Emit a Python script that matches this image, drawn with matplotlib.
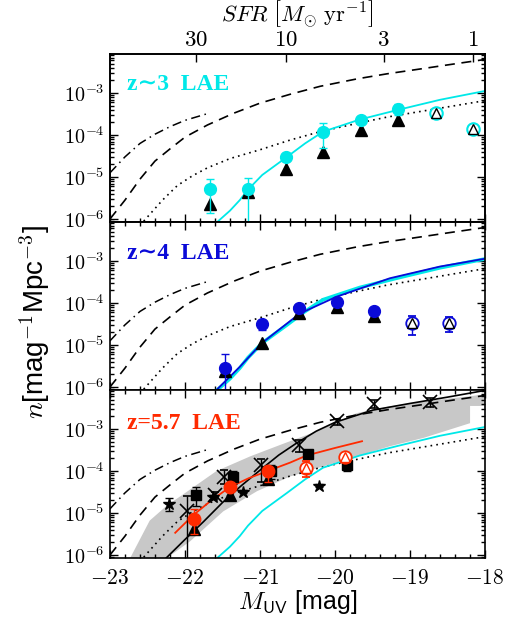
import numpy as np
import matplotlib
matplotlib.use("Agg")
import matplotlib.pyplot as plt
from matplotlib.ticker import FixedLocator, LogLocator, MultipleLocator, FuncFormatter, NullLocator, NullFormatter

plt.rcParams['mathtext.fontset'] = 'cm'

# ---- data (log10 n for densities, M_UV for magnitudes) ----
# reference curves, same in all three panels
dash_M = [-23.0, -22.8, -22.6, -22.4, -22.2, -22.0, -21.7, -21.35, -21.0, -20.6, -20.2, -19.7, -19.3, -18.8, -18.5, -18.0]
dash_n = [-6.0, -5.55, -5.05, -4.62, -4.33, -4.05, -3.76, -3.48, -3.24, -3.03, -2.84, -2.66, -2.54, -2.41, -2.33, -2.2]
dotdash_M = [-23.0, -22.8, -22.6, -22.4, -22.2, -22.0, -21.7]
dotdash_n = [-4.9, -4.52, -4.2, -3.98, -3.8, -3.65, -3.49]
dotted_M = [-22.55, -22.3, -22.1, -21.9, -21.7, -21.4, -21.0, -20.6, -20.2, -19.7, -19.3, -18.6, -18.0]
dotted_n = [-6.05, -5.55, -5.2, -4.97, -4.78, -4.56, -4.35, -4.12, -3.92, -3.72, -3.57, -3.36, -3.18]
cyan_M = [-21.57, -21.4, -21.27, -21.16, -20.97, -20.64, -20.4, -20.16, -19.67, -19.16, -18.6, -18.0]
cyan_n = [-6.07, -5.8, -5.55, -5.3, -4.95, -4.52, -4.2, -3.92, -3.63, -3.40, -3.16, -2.95]
blue_M = [-21.58, -21.27, -20.98, -20.47, -19.98, -19.27, -18.6, -18.02]
blue_n = [-6.07, -5.52, -4.96, -4.25, -3.85, -3.41, -3.13, -2.95]
black_M = [-22.25, -22.0, -21.75, -21.5, -21.25, -21.0, -20.75, -20.5, -20.25, -20.0, -19.5, -19.0, -18.5, -18.0]
black_n = [-6.07, -5.63, -5.2, -4.75, -4.35, -3.98, -3.62, -3.32, -3.05, -2.84, -2.55, -2.39, -2.24, -2.08]
red_M = [-22.13, -21.89, -21.65, -21.4, -21.15, -20.87, -20.6, -20.38, -20.0, -19.64]
red_n = [-5.47, -5.05, -4.7, -4.38, -4.17, -3.98, -3.8, -3.63, -3.45, -3.29]
band_M = [-22.85, -22.73, -22.47, -22.24, -22.02, -21.58, -21.13, -20.69, -20.24, -19.71, -19.27, -18.82, -18.2, -18.0,
          -18.0, -18.2, -18.2, -18.82, -19.27, -19.71, -20.16, -20.6, -21.04, -21.49, -21.93, -22.24, -22.3]
band_n = [-6.3, -6.07, -5.18, -4.82, -4.55, -4.0, -3.65, -3.35, -3.05, -2.62, -2.46, -2.34, -2.22, -2.17,
          -2.45, -2.45, -2.86, -3.21, -3.41, -3.65, -3.89, -4.13, -4.48, -4.96, -5.67, -6.07, -6.3]

# z~3 LAE
M3 = [-21.66, -21.16, -20.65, -20.16, -19.66, -19.16]
n3 = [-5.29, -5.29, -4.52, -3.92, -3.65, -3.39]
n3_hi = [-5.05, -5.02, -4.47, -3.71, -3.60, -3.26]
n3_lo = [-5.85, -6.3, -4.58, -4.30, -3.71, -3.52]
tri3 = [-5.65, -5.36, -4.82, -4.40, -3.89, -3.63]
M3_open = [-18.66, -18.16]
n3_open = [-3.47, -3.86]
n3_open_hi = [-3.42, -3.81]
n3_open_lo = [-3.52, -3.91]

# z~4 LAE
M4 = [-21.47, -20.97, -20.48, -19.98, -19.48]
n4 = [-5.54, -4.50, -4.11, -3.98, -4.19]
n4_hi = [-5.22, -4.45, -4.07, -3.95, -4.15]
n4_lo = [-6.3, -4.64, -4.15, -4.02, -4.23]
tri4 = [-5.62, -4.94, -4.23, -4.10, -4.31]
M4_open = [-18.98, -18.48]
n4_open = [-4.48, -4.47]
n4_open_hi = [-4.31, -4.33]
n4_open_lo = [-4.75, -4.68]

# z=5.7 LAE
M57 = [-21.88, -21.40, -20.89]
n57 = [-5.13, -4.39, -4.01]
n57_hi = [-4.90, -4.33, -3.90]
n57_lo = [-5.50, -4.45, -4.25]
tri57 = [-5.37, -4.58, -4.18]
M57_open = [-20.39, -19.87]
n57_open = [-3.92, -3.66]
n57_open_hi = [-3.77, -3.58]
n57_open_lo = [-4.15, -3.75]
Msq = [-21.85, -21.36, -20.86, -20.36, -19.84]
nsq = [-4.57, -4.15, -4.0, -3.6, -3.85]
nsq_hi = [-4.37, -4.0, -3.85, -3.55, -3.72]
nsq_lo = [-4.84, -4.3, -4.2, -3.66, -4.0]
Mx = [-21.97, -21.6, -21.48, -20.98, -20.48, -19.98, -19.48, -18.73]
nx = [-4.94, -4.57, -4.14, -3.86, -3.38, -2.82, -2.40, -2.36]
nx_hi = [-4.6, -4.5, -3.97, -3.72, -3.25, -2.75, -2.3, -2.25]
nx_lo = [-6.3, -4.64, -4.3, -4.25, -3.55, -2.9, -2.5, -2.48]
Mst = [-22.21, -21.62, -21.22, -20.21]
nst = [-4.79, -4.62, -4.49, -4.35]
nst_hi = [-4.63, -4.58, -4.45, -4.31]
nst_lo = [-4.95, -4.66, -4.53, -4.39]

sfr_ticks = [30, 10, 3, 1]
sfr_labels = ['30', '10', '3', '1']
M_sfr1 = -18.16   # M_UV at SFR = 1

CYAN = '#00e8e8'
BLUE = '#0a0ad8'
RED = '#ff2a00'
SANS = ['Liberation Sans', 'DejaVu Sans']


def p(a):
    return 10 ** np.asarray(a, dtype=float)


def errb(ax, M, n, hi, lo, **kw):
    y = p(n)
    ax.errorbar(M, y, yerr=[y - p(lo), p(hi) - y], linestyle='none', capsize=3,
                elinewidth=1, capthick=1, **kw)


def common(ax):
    ax.plot(dotdash_M, p(dotdash_n), color='k', lw=1.1, ls=(0, (6, 3, 1, 3)))
    ax.plot(dash_M, p(dash_n), color='k', lw=1.2, ls=(0, (6, 4)))
    ax.plot(dotted_M, p(dotted_n), color='k', lw=1.2, ls=(0, (1, 2.5)))


def style(ax, labels):
    ax.set_yscale('log')
    ax.set_xlim(-23, -18)
    ax.set_ylim(10 ** -6.07, 10 ** -2.07)
    ax.yaxis.set_major_locator(FixedLocator([1e-6, 1e-5, 1e-4, 1e-3]))
    ax.yaxis.set_minor_locator(LogLocator(base=10, subs=np.arange(2, 10), numticks=30))
    ax.yaxis.set_minor_formatter(NullFormatter())
    ax.yaxis.set_major_formatter(FuncFormatter(lambda v, pos: r'$10^{%d}$' % round(np.log10(v))))
    ax.xaxis.set_major_locator(MultipleLocator(1))
    ax.xaxis.set_minor_locator(MultipleLocator(0.2))
    ax.xaxis.set_major_formatter(FuncFormatter(lambda v, pos: r'$%d$' % round(v)))
    ax.tick_params(which='both', direction='in', top=True, right=True, width=1)
    ax.tick_params(which='major', length=6)
    ax.tick_params(which='minor', length=3)
    ax.tick_params(axis='y', labelsize=14.5, pad=4)
    ax.tick_params(axis='x', labelsize=15.5, pad=7, labelbottom=labels)
    for s in ax.spines.values():
        s.set_linewidth(1.2)


fig = plt.figure(figsize=(5.09, 6.33), dpi=100)
L, W, H = 0.216, 0.737, 0.2654
ax1 = fig.add_axes([L, 0.1185 + 2 * H, W, H])
ax2 = fig.add_axes([L, 0.1185 + H, W, H])
ax3 = fig.add_axes([L, 0.1185, W, H])

# top panel: z~3
style(ax1, False)
ax1.tick_params(which='both', top=False)
common(ax1)
ax1.plot(cyan_M, p(cyan_n), color=CYAN, lw=1.3)
ax1.plot(M3, p(tri3), '^', color='k', ms=8, zorder=4)
errb(ax1, M3, n3, n3_hi, n3_lo, marker='o', ms=8.5, color=CYAN, zorder=5)
errb(ax1, M3_open, n3_open, n3_open_hi, n3_open_lo, marker='o', ms=9, mfc='white', mec=CYAN, mew=1.5, color=CYAN, zorder=5)
ax1.plot(M3_open, p(n3_open), '^', ms=6.5, mfc='none', mec='k', mew=1, zorder=6)
ax1.text(0.045, 0.82, 'z∼3  LAE', transform=ax1.transAxes, color=CYAN, fontsize=17,
         fontweight='bold', family=['Liberation Serif', 'DejaVu Serif'], va='center')

top = ax1.twiny()
top.set_xlim(-23, -18)
top.set_xticks([M_sfr1 - 2.5 * np.log10(s) for s in sfr_ticks])
top.set_xticklabels(['$%s$' % s for s in sfr_labels])
top.xaxis.set_minor_locator(NullLocator())
top.tick_params(direction='in', length=6, width=1, labelsize=16.5, pad=2)
top.set_xlabel(r'$SFR\ \left[M_{\odot}\ \mathrm{yr}^{-1}\right]$', fontsize=16.5, labelpad=4)
for s in top.spines.values():
    s.set_linewidth(1.2)

# middle panel: z~4
style(ax2, False)
common(ax2)
ax2.plot(cyan_M, p(cyan_n), color=CYAN, lw=2.6)
ax2.plot(blue_M, p(blue_n), color=BLUE, lw=1.3)
ax2.plot(M4, p(tri4), '^', color='k', ms=8, zorder=4)
errb(ax2, M4, n4, n4_hi, n4_lo, marker='o', ms=8.5, color=BLUE, zorder=5)
errb(ax2, M4_open, n4_open, n4_open_hi, n4_open_lo, marker='o', ms=9, mfc='white', mec=BLUE, mew=1.3, color=BLUE, zorder=5)
ax2.plot(M4_open, p(n4_open), '^', ms=6.5, mfc='none', mec='k', mew=1, zorder=6)
ax2.text(0.045, 0.81, 'z∼4  LAE', transform=ax2.transAxes, color=BLUE, fontsize=17,
         fontweight='bold', family=['Liberation Serif', 'DejaVu Serif'], va='center')

# bottom panel: z=5.7
style(ax3, True)
ax3.fill(band_M, p(band_n), color='#c8c8c8', lw=0, zorder=0)
common(ax3)
ax3.plot(cyan_M, p(cyan_n), color=CYAN, lw=1.3)
ax3.plot(black_M, p(black_n), color='k', lw=1.2)
ax3.plot(red_M, p(red_n), color=RED, lw=1.3)
errb(ax3, Mst, nst, nst_hi, nst_lo, marker='*', ms=9, color='k', zorder=3)
errb(ax3, Mx, nx, nx_hi, nx_lo, marker='x', ms=10, mew=1.2, color='k', zorder=3)
errb(ax3, Msq, nsq, nsq_hi, nsq_lo, marker='s', ms=7, color='k', zorder=3)
ax3.plot(M57, p(tri57), '^', color='k', ms=8, zorder=4)
errb(ax3, M57, n57, n57_hi, n57_lo, marker='o', ms=9, color=RED, zorder=5)
errb(ax3, M57_open, n57_open, n57_open_hi, n57_open_lo, marker='o', ms=9, mfc='white', mec=RED, mew=1.3, color=RED, zorder=5)
ax3.plot(M57_open, p(n57_open), '^', ms=6.5, mfc='none', mec=RED, mew=1, zorder=6)
ax3.text(0.045, 0.80, 'z=5.7  LAE', transform=ax3.transAxes, color=RED, fontsize=17,
         fontweight='bold', family=['Liberation Serif', 'DejaVu Serif'], va='center')
ax3.set_xlabel(r'$M_{\mathsf{UV}}$ [mag]', fontsize=18, family=SANS, labelpad=0)

fig.text(0.068, 0.492, r'$n$[mag$^{-1}$Mpc$^{-3}$]', rotation=90, family=SANS,
         fontsize=20, ha='center', va='center')

fig.savefig('out.png', dpi=100)
